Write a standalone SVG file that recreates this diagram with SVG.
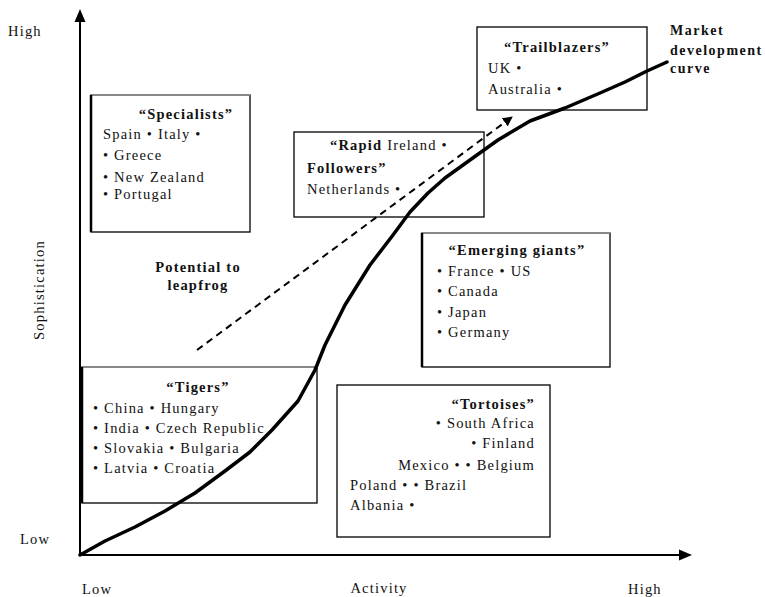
<svg xmlns="http://www.w3.org/2000/svg" width="765" height="597" viewBox="0 0 765 597">
<style>
text{font-family:"Liberation Serif","DejaVu Serif",serif;font-size:14.5px;letter-spacing:1.2px;fill:#111}
.b{font-weight:bold}
.m{text-anchor:middle}
.e{text-anchor:end}
.box{fill:#fff;stroke:#000;stroke-width:1.3}
.ax{stroke:#000;stroke-width:2;fill:none}
</style>
<defs>
<marker id="ah" viewBox="0 0 10 10" refX="9" refY="5" markerWidth="5" markerHeight="5" orient="auto" markerUnits="strokeWidth">
<path d="M0,0 L10,5 L0,10 z" fill="#000"/>
</marker>
</defs>
<rect width="765" height="597" fill="#fff"/>
<g id="axes">
<line class="ax" x1="80" y1="555" x2="80" y2="20"/>
<path d="M80,9 L74.5,22 L85.5,22 z" fill="#000"/>
<line class="ax" x1="80" y1="555" x2="680" y2="555"/>
<path d="M692,555 L679,549.5 L679,560.5 z" fill="#000"/>
<text x="8" y="36">High</text>
<text x="20" y="544">Low</text>
<text x="82" y="594">Low</text>
<text x="379" y="593" class="m">Activity</text>
<text x="628" y="594">High</text>
<text transform="translate(44,290) rotate(-90)" class="m">Sophistication</text>
</g>
<g id="specialists">
<rect class="box" x="91" y="95" width="159" height="137"/>
<line x1="91" y1="95" x2="250" y2="95" stroke="#999" stroke-width="1.3"/>
<line x1="91" y1="95" x2="91" y2="232" stroke="#000" stroke-width="2.5"/>
<text x="186" y="119" class="b m">“Specialists”</text>
<text x="103" y="139">Spain • Italy •</text>
<text x="103" y="160">• Greece</text>
<text x="103" y="182">• New Zealand</text>
<text x="103" y="199">• Portugal</text>
</g>
<g id="rapid-followers">
<rect class="box" x="294" y="132" width="190" height="85"/>
<text x="330" y="150"><tspan class="b">“Rapid</tspan> Ireland •</text>
<text x="307" y="173" class="b">Followers”</text>
<text x="307" y="194">Netherlands •</text>
</g>
<g id="trailblazers">
<rect class="box" x="477" y="27" width="170" height="83"/>
<text x="557" y="52" class="b m">“Trailblazers”</text>
<text x="488" y="73">UK •</text>
<text x="488" y="94">Australia •</text>
</g>
<g id="market-label">
<text x="670" y="35" class="b" style="font-size:14px;letter-spacing:1.5px">Market</text>
<text x="670" y="55" class="b" style="font-size:14px;letter-spacing:1.5px">development</text>
<text x="670" y="73" class="b" style="font-size:14px;letter-spacing:1.5px">curve</text>
</g>
<g id="emerging-giants">
<rect class="box" x="422" y="233" width="188" height="134"/>
<line x1="422" y1="233" x2="610" y2="233" stroke="#999" stroke-width="1.3"/>
<line x1="422" y1="233" x2="422" y2="367" stroke="#000" stroke-width="2.5"/>
<text x="517" y="255" class="b m">“Emerging giants”</text>
<text x="437" y="276">• France • US</text>
<text x="437" y="296">• Canada</text>
<text x="437" y="317">• Japan</text>
<text x="437" y="337">• Germany</text>
</g>
<g id="tigers">
<rect class="box" x="82" y="367" width="235" height="136"/>
<line x1="82" y1="367" x2="317" y2="367" stroke="#999" stroke-width="1.3"/>
<line x1="82" y1="367" x2="82" y2="503" stroke="#000" stroke-width="2.5"/>
<text x="198" y="392" class="b m">“Tigers”</text>
<text x="93" y="413">• China • Hungary</text>
<text x="93" y="433">• India • Czech Republic</text>
<text x="93" y="453">• Slovakia • Bulgaria</text>
<text x="93" y="473">• Latvia • Croatia</text>
</g>
<g id="tortoises">
<rect class="box" x="337" y="385" width="213" height="152"/>
<text x="535" y="409" class="b e">“Tortoises”</text>
<text x="535" y="428" class="e">• South Africa</text>
<text x="535" y="448" class="e">• Finland</text>
<text x="535" y="470" class="e">Mexico • • Belgium</text>
<text x="350" y="490">Poland • • Brazil</text>
<text x="350" y="510">Albania •</text>
</g>
<g id="leapfrog-label">
<text x="198" y="272" class="b m">Potential to</text>
<text x="198" y="290" class="b m">leapfrog</text>
</g>
<g id="connectors">
<line x1="197" y1="350" x2="512" y2="117" stroke="#000" stroke-width="2" stroke-dasharray="7,5" marker-end="url(#ah)"/>
<path d="M80,555 L105,541 L135,527 L165,511 L195,493 L225,471 L250,452 L272,430 L298,401 L315,370 L325,345 L345,305 L370,265 L393,235 L410,212 L428,193 L445,178 L470,160 L498,140 L530,121 L565,108 L600,93 L625,82 L647,71 L667,62" fill="none" stroke="#000" stroke-width="3.5" stroke-linejoin="round" stroke-linecap="round"/>
</g>
</svg>
